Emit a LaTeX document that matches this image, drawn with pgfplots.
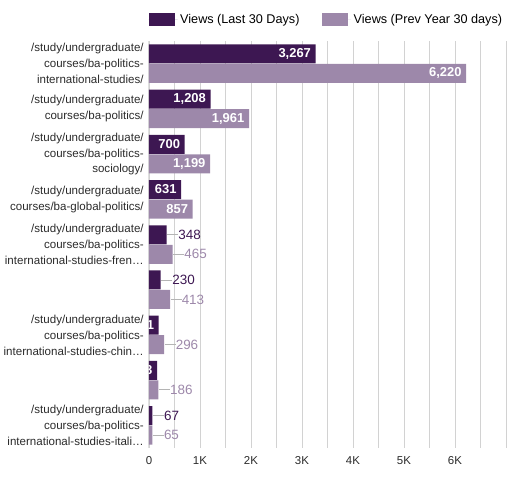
\documentclass[border=0pt]{standalone}
\usepackage{fontspec}
\setmainfont{Liberation Sans}
\usepackage{pgfplots}
\pgfplotsset{compat=1.18}
\definecolor{darkp}{HTML}{3D1752}
\definecolor{lightp}{HTML}{9D88AA}
\definecolor{gridc}{HTML}{D2D2D2}
\definecolor{leader}{HTML}{B4B4B4}
\definecolor{labc}{HTML}{2A2A2A}

\pgfplotsset{
  inside/.style={nodes near coords, point meta=x,
    every node near coord/.append style={anchor=east, inner sep=0pt, xshift=-4.5bp,
      text=white, font=\fontsize{13}{13}\selectfont\bfseries}},
  outside/.style={point meta=x,
    nodes near coords={\textcolor{leader}{\rule[0.32em]{11bp}{0.8bp}}\pgfmathprintnumber{\pgfplotspointmeta}},
    every node near coord/.append style={anchor=west, inner sep=0pt, xshift=0.5bp,
      text=#1, font=\fontsize{13.5}{13.5}\selectfont}},
}

\begin{document}
\begin{tikzpicture}
\begin{axis}[
  at={(0,0)}, anchor=south west,
  scale only axis, width=357bp, height=407bp,
  xbar, bar width=19bp,
  xmin=0, xmax=7000, ymin=-0.5, ymax=8.5, y dir=reverse,
  xtick={0,500,...,7000},
  xticklabels={0,,1K,,2K,,3K,,4K,,5K,,6K,,},
  ytick={0,...,8},
  yticklabels={
    {/study/undergraduate/\\courses/ba-politics-\\international-studies/},
    {/study/undergraduate/\\courses/ba-politics/},
    {/study/undergraduate/\\courses/ba-politics-\\sociology/},
    {/study/undergraduate/\\courses/ba-global-politics/},
    {/study/undergraduate/\\courses/ba-politics-\\international-studies-fren…},
    {},
    {/study/undergraduate/\\courses/ba-politics-\\international-studies-chin…},
    {},
    {/study/undergraduate/\\courses/ba-politics-\\international-studies-itali…}},
  yticklabel style={align=right, inner sep=0pt, xshift=-3bp, text=labc,
    font=\fontsize{11.6}{16}\selectfont},
  xticklabel style={inner sep=0pt, yshift=-6.5bp, text=labc,
    font=\fontsize{11.5}{11.5}\selectfont},
  axis lines=left, axis line style={draw=none},
  tick style={draw=none},
  xmajorgrids, grid style={gridc, line width=0.9bp},
  clip marker paths=true,
  /pgf/number format/.cd, 1000 sep={,}, assume math mode=true, /pgfplots/.cd,
  legend columns=2,
  legend style={draw=none, fill=none, at={(0,1)}, anchor=west, xshift=-0.6bp, yshift=21.7bp,
    inner sep=0pt, nodes={inner sep=2.6bp}, font=\fontsize{12.7}{12.7}\selectfont,
    /tikz/every even column/.append style={column sep=20bp}},
  legend image code/.code={\fill[#1] (0bp,-6.3bp) rectangle (26bp,6.3bp);
    \path (0bp,0bp) -- (29bp,0bp);},
]
% last 30 days, labels inside the bar
\addplot[fill=darkp, draw=none, bar shift=9.75bp, inside]
  coordinates {(3267,0) (1208,1) (700,2) (631,3) (191,6) (158,7)};
\addlegendentry{Views (Last 30 Days)}
% prev year, labels inside the bar
\addplot[fill=lightp, draw=none, bar shift=-9.75bp, inside]
  coordinates {(6220,0) (1961,1) (1199,2) (857,3)};
\addlegendentry{Views (Prev Year 30 days)}
% short bars, labels outside
\addplot[fill=darkp, draw=none, bar shift=9.75bp, outside=darkp, forget plot]
  coordinates {(348,4) (230,5) (67,8)};
\addplot[fill=lightp, draw=none, bar shift=-9.75bp, outside=lightp, forget plot]
  coordinates {(465,4) (413,5) (296,6) (186,7) (65,8)};
\draw[black, line width=1bp] (axis cs:0,-0.5) -- (axis cs:0,8.5);
\end{axis}
\pgfresetboundingbox
\useasboundingbox (-149bp,-43bp) rectangle (372bp,448bp);
\end{tikzpicture}
\end{document}
